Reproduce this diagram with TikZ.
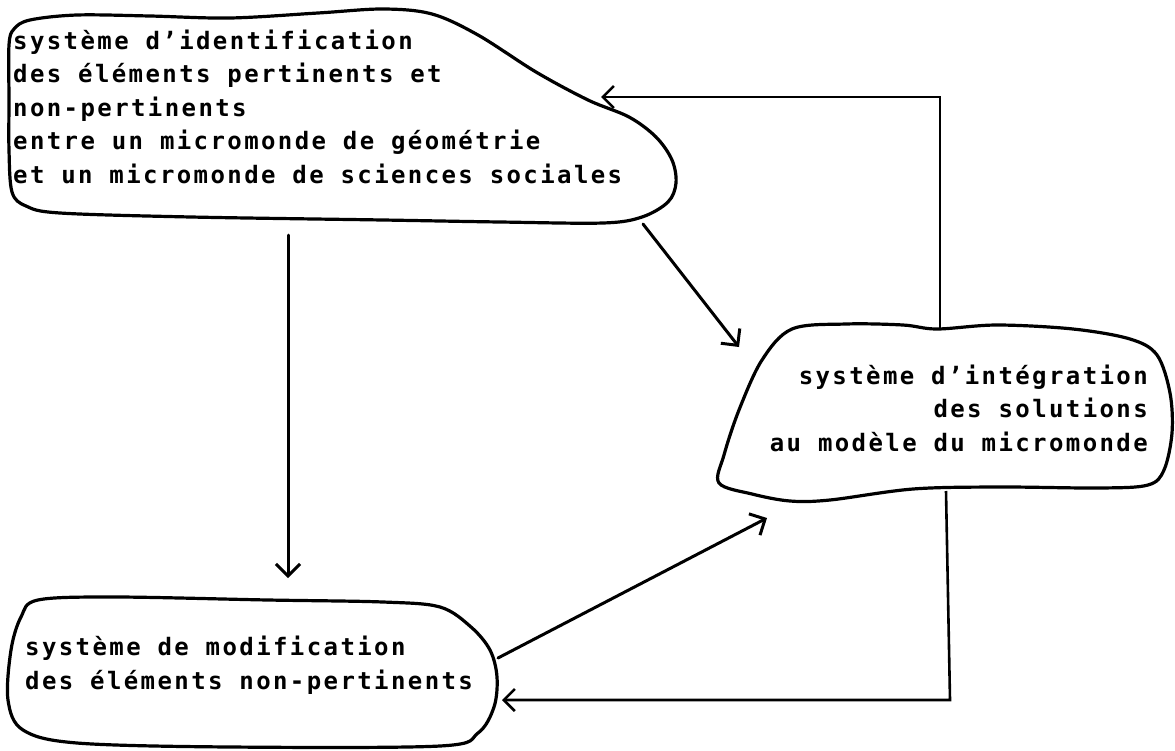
\documentclass[tikz,border=0pt]{standalone}
\usepackage{fontspec}
\newfontfamily\dotmono[LetterSpace=10]{DejaVu Sans Mono Bold}
\usetikzlibrary{arrows.meta}
\begin{document}
\begin{tikzpicture}[x=1pt,y=-1pt,
  blob/.style={line width=3.2pt, line join=round},
  flow/.style={line width=3pt, line cap=round,
    -{Straight Barb[length=12pt,width=24pt,line width=3pt]}},
  back/.style={line width=2.6pt,
    -{Straight Barb[length=11pt,width=22pt,line width=2.6pt]}},
  txt/.style={font=\dotmono\fontsize{24}{33.5}\selectfont, inner sep=0pt}]
\useasboundingbox (0,0) rectangle (1175,750);

% outlines of the three systems
\draw[blob] plot[smooth cycle, tension=0.55] coordinates {
  (9,45) (14,29) (30,20) (77,15) (150,16) (230,18) (318,13) (383,9)
  (432,14) (478,35) (536,72) (588,100) (629,117) (656,137) (672,160)
  (676,183) (668,202) (642,217) (603,223) (500,222) (383,220) (191,217)
  (60,213) (26,206) (12,192) (9,150) (9,100)};

\draw[blob] plot[smooth cycle, tension=0.55] coordinates {
  (792,329) (846,324) (903,325) (937,329) (997,325) (1073,329) (1130,339)
  (1157,355) (1170,393) (1172,433) (1164,470) (1148,485) (1100,488)
  (1000,487) (913,489) (830,500) (790,501) (752,494) (719,483)
  (724,455) (739,410) (762,360)};

\draw[blob] plot[smooth cycle, tension=0.55] coordinates {
  (38,600) (115,597) (268,600) (383,602) (440,607) (471,627) (490,650)
  (497,677) (494,707) (478,733) (440,746) (230,747) (77,743) (23,730)
  (8,700) (11,650) (21,617)};

% texts (the anchor is the baseline of the last line)
\node[txt, anchor=base west, align=left] (ident) at (13,183)
  {système d’identification\\des éléments pertinents et\\non-pertinents\\entre un micromonde de géométrie\\et un micromonde de sciences sociales};
\node[txt, anchor=base east, align=right] (integ) at (1148,451)
  {système d’intégration\\des solutions\\au modèle du micromonde};
\node[txt, anchor=base west, align=left] (modif) at (25,689)
  {système de modification\\des éléments non-pertinents};

% connection points on the outlines
\coordinate (identS)  at (288,235);
\coordinate (identSE) at (643,224);
\coordinate (identE)  at (601,97);
\coordinate (integNW) at (739,347);
\coordinate (integSW) at (767,518);
\coordinate (integN)  at (940,329);
\coordinate (integS)  at (946,491);
\coordinate (modifN)  at (288,578);
\coordinate (modifNE) at (498,658);
\coordinate (modifE)  at (502,700);

% connectors
\draw[flow] (identS) -- (modifN);
\draw[flow] (identSE) -- (integNW);
\draw[flow] (modifNE) -- (integSW);
\draw[back] (integN) |- (identE);
\draw[back] (integS) -- (950,700) -- (modifE);
\end{tikzpicture}
\end{document}
